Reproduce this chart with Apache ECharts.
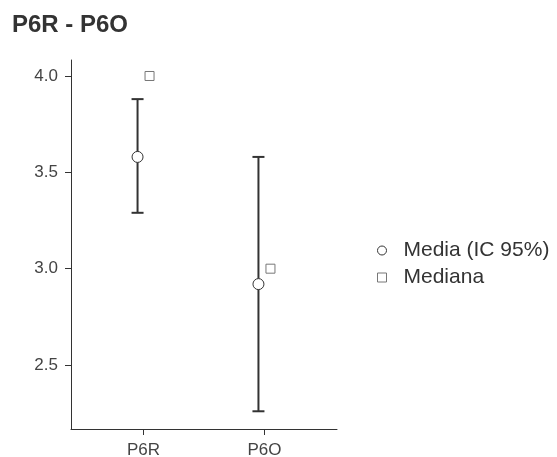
<!DOCTYPE html>
<html>
<head>
<meta charset="utf-8">
<script src="https://cdn.jsdelivr.net/npm/echarts@6/dist/echarts.min.js"></script>
<style>
  html, body { margin: 0; padding: 0; background: #fff; }
  #chart { width: 557px; height: 457px; }
</style>
</head>
<body>
<div id="chart"></div>
<script>
// data
const categories = ['P6R', 'P6O'];
const means = [3.58, 2.92];
const ciLow = [3.29, 2.26];
const ciHigh = [3.88, 3.58];
const medians = [4.0, 3.0];
const yTicks = [2.5, 3.0, 3.5, 4.0];

const dodge = 6; // px, mean left / median right
const font = 'Liberation Sans, Arial, Helvetica, sans-serif';

const chart = echarts.init(document.getElementById('chart'));

const xs = categories.map((c, i) => i + 1);

const option = {
    animation: false,
    title: {
        text: 'P6R - P6O',
        left: 7, top: 8,
        textStyle: { fontFamily: font, fontSize: 24, fontWeight: 'bold', color: '#333' }
    },
    legend: {
        orient: 'vertical',
        left: 377, top: 240,
        padding: 0,
        itemWidth: 9, itemHeight: 9, itemGap: 6,
        textStyle: { fontFamily: font, fontSize: 21, lineHeight: 21, color: '#333', padding: [0, 0, 0, 12] },
        data: [
            { name: 'Media (IC 95%)', icon: 'circle',
              itemStyle: { color: '#fff', borderColor: '#333', borderWidth: 1 } },
            { name: 'Mediana', icon: 'rect',
              itemStyle: { color: '#fff', borderColor: '#777', borderWidth: 1 } }
        ]
    },
    grid: { left: 71, top: 60, right: 220, bottom: 28, containLabel: false, outerBoundsMode: 'none' },
    xAxis: {
        type: 'value',
        min: 0.4, max: 2.6,
        splitLine: { show: false },
        axisLine: { lineStyle: { color: '#333', width: 1 } },
        axisTick: { customValues: xs, length: 6, lineStyle: { color: '#333' } },
        axisLabel: {
            customValues: xs,
            margin: 13,
            fontFamily: font, fontSize: 17, color: '#444',
            formatter: v => categories[Math.round(v) - 1] || ''
        }
    },
    yAxis: {
        type: 'value',
        min: 2.168, max: 4.083,
        splitLine: { show: false },
        axisLine: { show: true, lineStyle: { color: '#333', width: 1 } },
        axisTick: { show: true, customValues: yTicks, length: 6, lineStyle: { color: '#333' } },
        axisLabel: {
            customValues: yTicks,
            margin: 13,
            fontFamily: font, fontSize: 17, color: '#444',
            formatter: v => v.toFixed(1)
        }
    },
    series: [
        {
            type: 'custom',
            name: 'ci',
            silent: true,
            data: xs.map((x, i) => [x, ciLow[i], ciHigh[i]]),
            renderItem: function (params, api) {
                const lo = api.coord([api.value(0), api.value(1)]);
                const hi = api.coord([api.value(0), api.value(2)]);
                const x = lo[0] - dodge;
                const cap = 6;
                const style = { stroke: '#333', lineWidth: 2 };
                return {
                    type: 'group',
                    children: [
                        { type: 'line', shape: { x1: x, y1: lo[1], x2: x, y2: hi[1] }, style: style },
                        { type: 'line', shape: { x1: x - cap, y1: lo[1], x2: x + cap, y2: lo[1] }, style: style },
                        { type: 'line', shape: { x1: x - cap, y1: hi[1], x2: x + cap, y2: hi[1] }, style: style }
                    ]
                };
            },
            z: 1
        },
        {
            type: 'scatter',
            name: 'Media (IC 95%)',
            data: xs.map((x, i) => [x, means[i]]),
            symbol: 'circle',
            symbolSize: 11,
            symbolOffset: [-dodge, 0],
            itemStyle: { color: '#fff', borderColor: '#333', borderWidth: 1, opacity: 1 },
            z: 3
        },
        {
            type: 'scatter',
            name: 'Mediana',
            data: xs.map((x, i) => [x, medians[i]]),
            symbol: 'rect',
            symbolSize: 9,
            symbolOffset: [dodge, 0],
            itemStyle: { color: '#fff', borderColor: '#777', borderWidth: 1, opacity: 1 },
            z: 3
        }
    ]
};

option && chart.setOption(option);
</script>
</body>
</html>
